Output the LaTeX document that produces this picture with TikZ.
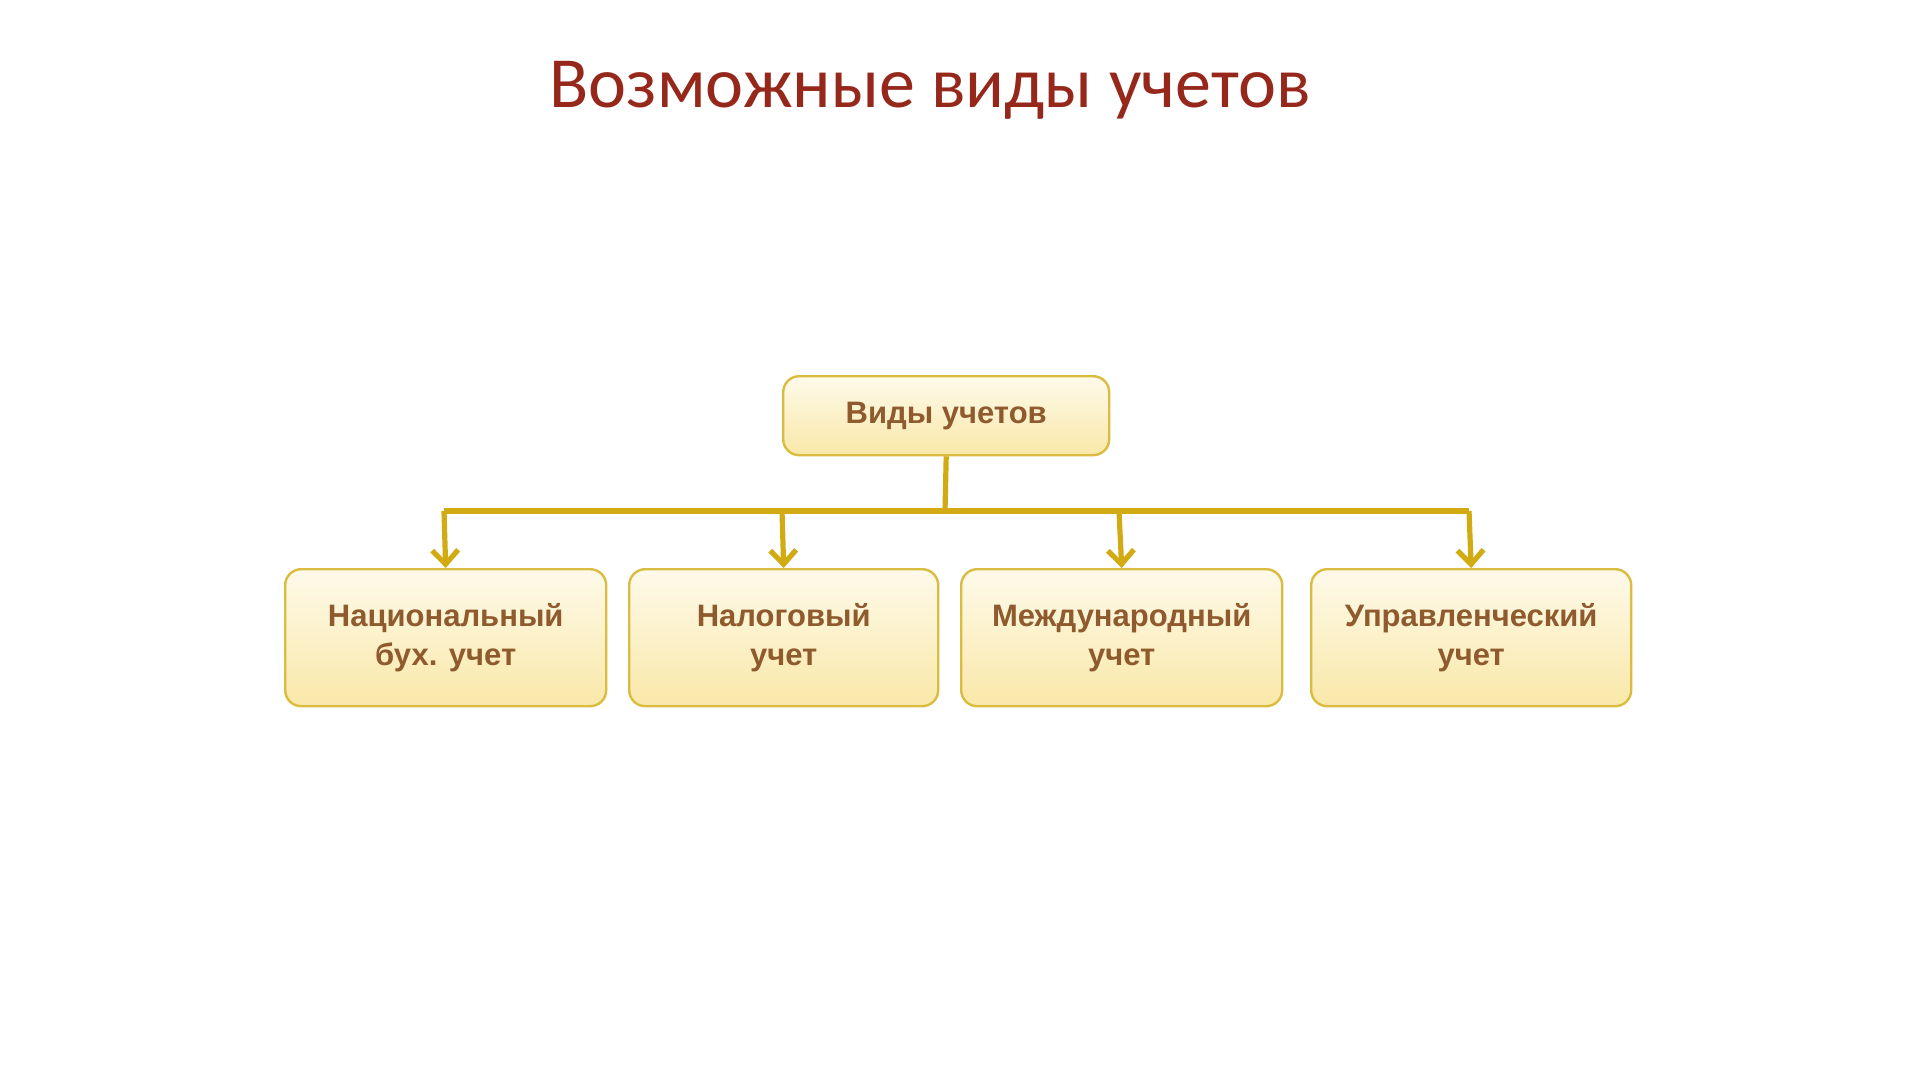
\documentclass[tikz,border=0pt]{standalone}
\usepackage{fontspec}
\setmainfont{Liberation Sans}
\newfontfamily\titlefont{Carlito}
\usetikzlibrary{arrows.meta}
\definecolor{gold}{HTML}{D2AA12}
\definecolor{boxline}{HTML}{D9BC40}
\definecolor{boxtop}{HTML}{FEFAEA}
\definecolor{boxbot}{HTML}{F9E8A8}
\definecolor{txt}{HTML}{8E5A2E}
\definecolor{ttl}{HTML}{96281B}
\tikzset{
 box/.style={draw=boxline,line width=1.2pt,rounded corners=8pt,top color=boxtop,bottom color=boxbot,
   font=\bfseries\fontsize{15.5}{19.5}\selectfont,text=txt,align=center,anchor=north west},
 conn/.style={draw=gold,line width=2.6pt},
 arr/.style={conn,-{Straight Barb[length=7pt,width=13pt,line width=2.6pt]}}
}
\begin{document}
\begin{tikzpicture}[x=0.5pt,y=-0.5pt]
\useasboundingbox (0,0) rectangle (1920,1080);
\node[font=\titlefont\fontsize{36}{40}\selectfont,text=ttl] (title) at (930,90) {Возможные виды учетов};
\node[box,minimum width=163pt,minimum height=39.5pt] (top) at (782,375) {Виды учетов};
\node[box,minimum width=160.5pt,minimum height=68.5pt] (b1) at (284,568) {Национальный\\бух. учет};
\node[box,minimum width=154.5pt,minimum height=68.5pt] (b2) at (628,568) {Налоговый\\учет};
\node[box,minimum width=160.5pt,minimum height=68.5pt] (b3) at (960,568) {Международный\\учет};
\node[box,minimum width=160pt,minimum height=68.5pt] (b4) at (1310,568) {Управленческий\\учет};
\coordinate (j) at (945,511);
\draw[conn] (top.south) -- (j);
\draw[conn] (444,511) -- (1469,511);
\draw[arr] (444,511) -- (b1.north);
\draw[arr] (782,511) -- (b2.north);
\draw[arr] (1119,511) -- (b3.north);
\draw[arr] (1469,511) -- (b4.north);
\end{tikzpicture}
\end{document}
